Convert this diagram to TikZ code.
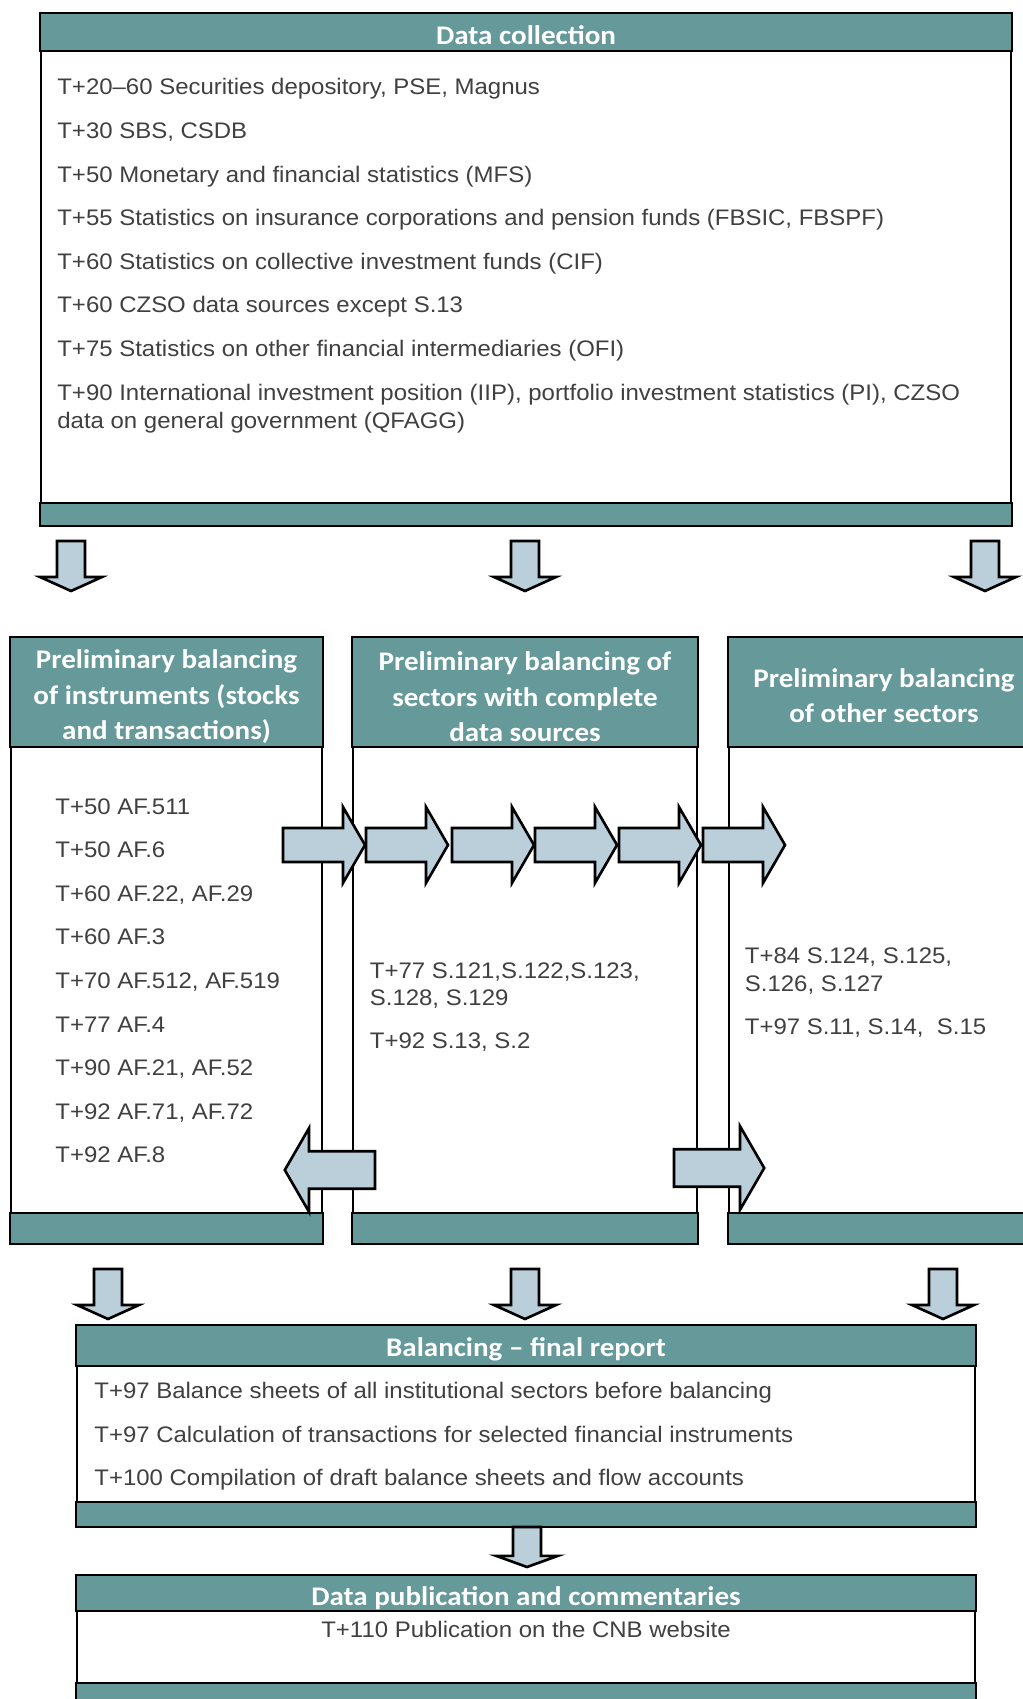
\documentclass[tikz,border=0pt]{standalone}
\usepackage{fontspec}
\setmainfont{Liberation Sans}[FakeStretch=1.066]
\newfontfamily\headfont{Carlito}[FakeStretch=1.08]
\usetikzlibrary{positioning, fit, calc}
\definecolor{bandteal}{HTML}{669999}
\definecolor{arrowfill}{HTML}{BACFD9}
\definecolor{bodygray}{HTML}{404040}
\tikzset{%
	panel/.style={draw, line width=1.4pt, inner sep=0pt, fill=white},
	band/.style={draw, line width=1.4pt, fill=bandteal},
	headtxt/.style={font=\headfont\bfseries\fontsize{15.3}{20.3}\selectfont, text=white, align=center, inner sep=0pt},
	item/.style={font=\fontsize{12.8}{15.6}\selectfont, text=bodygray, anchor=base west, inner sep=0pt},
	blockarrow/.style={draw, line width=1.5pt, fill=arrowfill, line join=miter},
	rarrow/.pic={\path[blockarrow] (0,-17) -- (60,-17) -- (60,-38) -- (82,0) -- (60,38) -- (60,17) -- (0,17) -- cycle;},
	darrow/.pic={\path[blockarrow] (-14,0) -- (14,0) -- (14,36) -- (31,36) -- (0,50) -- (-31,36) -- (-14,36) -- cycle;}
}
\begin{document}
\begin{tikzpicture}[x=0.02cm, y=-0.02cm]
	\useasboundingbox (0,0) rectangle (1023,1699);

	% data collection
	\node[panel, fit={(41,14) (1011,525)}] (collect) {};
	\path[band] (collect.north west) rectangle ($(collect.north east)+(0,38)$);
	\path[band] ($(collect.south west)+(0,-23)$) rectangle (collect.south east);
	\node[headtxt, anchor=base] (collecthead) at ($(collect.north)+(0,32)$) {Data collection};
	\foreach \txt [count=\i] in {{T+20–60 Securities depository, PSE, Magnus}, {T+30 SBS, CSDB},
		{T+50 Monetary and financial statistics (MFS)},
		{T+55 Statistics on insurance corporations and pension funds (FBSIC, FBSPF)},
		{T+60 Statistics on collective investment funds (CIF)}, {T+60 CZSO data sources except S.13},
		{T+75 Statistics on other financial intermediaries (OFI)},
		{T+90 International investment position (IIP), portfolio investment statistics (PI), CZSO}}
		\node[item] (col\i) at (57, 51.4+43.6*\i) {\txt};
	\node[item] (col9) at (57,428) {data on general government (QFAGG)};

	% three preliminary balancing boxes
	\node[panel, fit={(11,638) (322,1243)}] (instr) {};
	\node[panel, fit={(353,638) (697,1243)}] (complete) {};
	\node[panel, fit={(729,638) (1039,1243)}] (other) {};
	\foreach \b in {instr, complete, other} {
		\path[band] (\b.north west) rectangle ($(\b.north east)+(0,110)$);
		\path[band] ($(\b.south west)+(0,-31)$) rectangle (\b.south east);
	}
	\node[headtxt] (instrhead) at ($(instr.north)+(0,60)$) {Preliminary balancing\\of instruments (stocks\\and transactions)};
	\node[headtxt] (completehead) at ($(complete.north)+(0,60)$) {Preliminary balancing of\\sectors with complete\\data sources};
	\node[headtxt] (otherhead) at ($(other.north)+(0,59)$) {Preliminary balancing\\of other sectors};

	\foreach \txt [count=\i] in {{T+50 AF.511}, {T+50 AF.6}, {T+60 AF.22, AF.29}, {T+60 AF.3},
		{T+70 AF.512, AF.519}, {T+77 AF.4}, {T+90 AF.21, AF.52}, {T+92 AF.71, AF.72}, {T+92 AF.8}}
		\node[item] (ins\i) at (55, 770.4+43.6*\i) {\txt};
	\node[item] (com1) at (369.5,978) {T+77 S.121,S.122,S.123,};
	\node[item] (com2) at (369.5,1005) {S.128, S.129};
	\node[item] (com3) at (369.5,1048) {T+92 S.13, S.2};
	\node[item] (oth1) at (744.5,963) {T+84 S.124, S.125,};
	\node[item] (oth2) at (744.5,991) {S.126, S.127};
	\node[item] (oth3) at (744.5,1034) {T+97 S.11, S.14,\ \ S.15};

	% final report
	\node[panel, fit={(77,1326) (975,1526)}] (final) {};
	\path[band] (final.north west) rectangle ($(final.north east)+(0,41)$);
	\path[band] ($(final.south west)+(0,-25)$) rectangle (final.south east);
	\node[headtxt, anchor=base] (finalhead) at ($(final.north)+(0,32)$) {Balancing – final report};
	\node[item] (fin1) at (94,1398) {T+97 Balance sheets of all institutional sectors before balancing};
	\node[item] (fin2) at (94,1442) {T+97 Calculation of transactions for selected financial instruments};
	\node[item] (fin3) at (94,1485) {T+100 Compilation of draft balance sheets and flow accounts};

	% publication
	\node[panel, fit={(77,1576) (975,1720)}] (pub) {};
	\path[band] (pub.north west) rectangle ($(pub.north east)+(0,36)$);
	\path[band] ($(pub.south west)+(0,-38)$) rectangle (pub.south east);
	\node[headtxt, anchor=base] (pubhead) at ($(pub.north)+(0,31)$) {Data publication and commentaries};
	\node[item, anchor=base] (pub1) at (526,1637) {T+110 Publication on the CNB website};

	% block arrows
	\foreach \x in {71,525,985} \pic at (\x,541) {darrow};
	\foreach \x in {283,366,452,535,619,703} \pic at (\x,845) {rarrow};
	\pic[xscale=-1.1, yscale=1.1] at (375,1170) {rarrow};
	\pic[xscale=1.1, yscale=1.1] at (674,1168) {rarrow};
	\foreach \x in {108,525,943} \pic at (\x,1269) {darrow};
	\pic[yscale=0.8] at (527,1527) {darrow};
\end{tikzpicture}
\end{document}
